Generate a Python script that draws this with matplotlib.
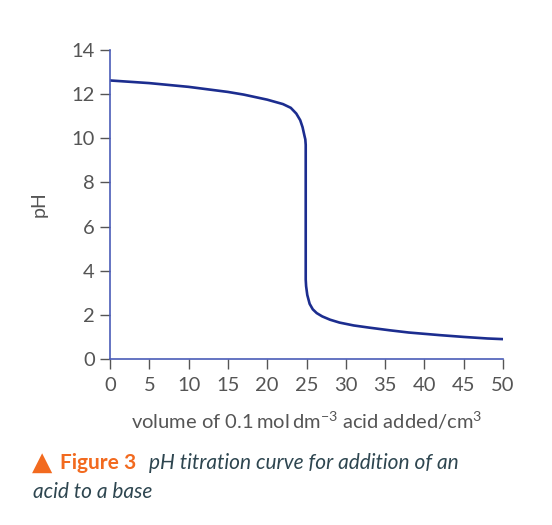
import matplotlib.pyplot as plt
import numpy as np

# volume of acid added (cm3) and pH
volume = [0, 5, 10, 15, 17, 20, 22, 23, 23.7, 24.2, 24.5, 24.75, 24.85, 24.9,
          24.9, 24.95, 25.1, 25.4, 25.8, 26.3, 27, 28, 29.2, 31, 33, 35.6, 38, 40, 42, 45, 48, 50]
ph = [12.62, 12.5, 12.33, 12.1, 11.98, 11.75, 11.55, 11.38, 11.12, 10.82, 10.5, 10.1, 9.95, 9.7,
      3.6, 3.3, 2.9, 2.5, 2.25, 2.08, 1.93, 1.78, 1.65, 1.52, 1.42, 1.3, 1.2, 1.14, 1.08, 1.0, 0.93, 0.9]

x_ticks = list(range(0, 51, 5))
y_ticks = list(range(0, 15, 2))

spine_col = '#4a5cb8'
line_col = '#1c2d8f'
text_col = '#555555'

plt.rcParams['font.family'] = ['Lato', 'DejaVu Sans']
plt.rcParams['mathtext.fontset'] = 'custom'
plt.rcParams['mathtext.rm'] = 'Lato'

fig = plt.figure(figsize=(5.52, 5.25), dpi=100)
ax = fig.add_axes([110 / 552, 1 - 359 / 525, 393 / 552, 309 / 525])

ax.plot(volume, ph, color=line_col, lw=1.9, solid_capstyle='round', solid_joinstyle='round')

ax.set_xlim(0, 50)
ax.set_ylim(0, 14)
ax.set_xticks(x_ticks)
ax.set_yticks(y_ticks)
for s in ['top', 'right']:
    ax.spines[s].set_visible(False)
for s in ['left', 'bottom']:
    ax.spines[s].set_color(spine_col)
    ax.spines[s].set_linewidth(1.2)
ax.tick_params(direction='out', length=7, width=1.0, color='#555555',
               labelcolor=text_col, labelsize=14.5, pad=4)
ax.tick_params(axis='x', pad=6)

ax.set_ylabel('pH', fontsize=14, color=text_col, labelpad=17)
ax.set_xlabel(r'volume of 0.1$\,$mol$\,$dm$^{-3}$ acid added/cm$^{3}$', fontsize=14.5,
              color=text_col, labelpad=11)

# caption
fig.text(32 / 552, 1 - 463 / 525, '\u25b2', color='#f26a1f', fontsize=19, va='center',
         family=['DejaVu Sans'])
fig.text(60 / 552, 1 - 463 / 525, 'Figure 3', color='#f26a1f', fontsize=15,
         fontweight='bold', va='center')
fig.text(149 / 552, 1 - 463 / 525, 'pH titration curve for addition of an', color='#2e4650',
         fontsize=15, style='italic', va='center')
fig.text(33 / 552, 1 - 492 / 525, 'acid to a base', color='#2e4650',
         fontsize=15, style='italic', va='center')

fig.savefig('out.png', dpi=100)
